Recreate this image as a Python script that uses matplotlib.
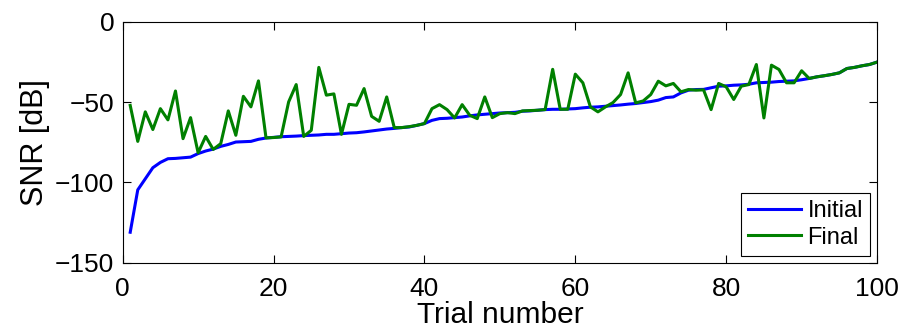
import numpy as np
import matplotlib
matplotlib.use("Agg")
import matplotlib.pyplot as plt

plt.rcParams['font.family'] = ['Liberation Sans', 'DejaVu Sans']

trials = np.arange(1, 101)

initial = [
    -131.0, -104.6, -97.7, -90.8, -87.5, -85.2, -85.0, -84.6, -84.2, -82.0,
    -80.4, -79.2, -77.5, -76.3, -74.8, -74.6, -74.4, -73.1, -72.3, -71.9,
    -71.5, -71.3, -71.1, -70.8, -70.6, -70.4, -70.0, -70.0, -69.6, -69.2,
    -69.0, -68.5, -67.9, -67.3, -66.7, -66.3, -65.8, -65.4, -64.4, -63.3,
    -61.3, -60.2, -60.0, -59.6, -59.2, -58.5, -57.9, -57.5, -57.1, -56.7,
    -56.5, -56.3, -55.6, -55.4, -55.0, -54.6, -54.4, -54.4, -54.2, -54.0,
    -53.5, -53.1, -52.9, -52.5, -52.1, -51.7, -51.2, -50.8, -50.2, -49.6,
    -48.7, -47.1, -46.7, -44.2, -42.5, -42.1, -42.0, -41.0, -40.0, -39.8,
    -39.4, -39.2, -38.8, -37.9, -37.7, -37.5, -37.1, -36.9, -36.7, -36.0,
    -35.2, -34.2, -33.5, -32.7, -31.7, -29.0, -28.3, -27.3, -26.5, -25.0,
]

final = [
    -52.0, -74.4, -56.0, -67.0, -54.0, -61.0, -43.0, -72.7, -59.6, -81.5,
    -71.3, -79.4, -75.8, -55.4, -70.6, -46.3, -52.9, -36.7, -72.2, -72.0,
    -71.6, -49.8, -39.0, -71.3, -67.5, -28.3, -45.6, -44.8, -70.0, -51.3,
    -51.9, -41.5, -58.8, -61.9, -46.7, -65.8, -65.8, -65.2, -64.4, -63.3,
    -54.0, -51.5, -54.6, -59.8, -51.5, -58.1, -60.2, -46.7, -59.6, -57.1,
    -56.5, -57.1, -55.4, -55.2, -55.0, -54.6, -29.5, -54.4, -54.4, -32.5,
    -37.9, -52.9, -56.0, -52.9, -50.2, -45.2, -31.7, -50.4, -49.2, -45.2,
    -36.9, -39.8, -38.3, -43.5, -42.1, -42.5, -42.3, -54.6, -38.3, -40.4,
    -48.3, -40.0, -39.0, -26.5, -59.8, -26.9, -29.6, -37.9, -37.9, -30.4,
    -35.2, -34.2, -33.5, -32.7, -31.7, -29.0, -28.3, -27.3, -26.5, -25.0,
]

fig = plt.figure(figsize=(9.04, 3.28), dpi=100)
ax = fig.add_axes([0.1357, 0.199, 0.8345, 0.734])

ax.plot(trials, initial, color=(0, 0, 1), lw=2.2, label='Initial')
ax.plot(trials, final, color=(0, 0.5, 0), lw=2.2, label='Final')

ax.set_xlim(0, 100)
ax.set_ylim(-150, 0)
ax.set_xticks([0, 20, 40, 60, 80, 100])
ax.set_yticks([-150, -100, -50, 0])
ax.set_yticklabels(['\u2212150', '\u2212100', '\u221250', '0'])
ax.tick_params(direction='in', top=True, right=True, labelsize=19, length=6, width=0.8)
ax.tick_params(axis='x', pad=10)
ax.tick_params(axis='y', pad=6)
for s in ax.spines.values():
    s.set_linewidth(0.8)

ax.set_xlabel('Trial number', fontsize=21.5, labelpad=0)
ax.set_ylabel('SNR [dB]', fontsize=22, labelpad=4)

leg = ax.legend(loc='lower right', fontsize=17, fancybox=False, framealpha=1,
                edgecolor='black', borderaxespad=0.3, handlelength=2.25,
                handletextpad=0.25, borderpad=0.3, labelspacing=0.2)
leg.get_frame().set_linewidth(0.8)

fig.savefig('out.png', dpi=100)
